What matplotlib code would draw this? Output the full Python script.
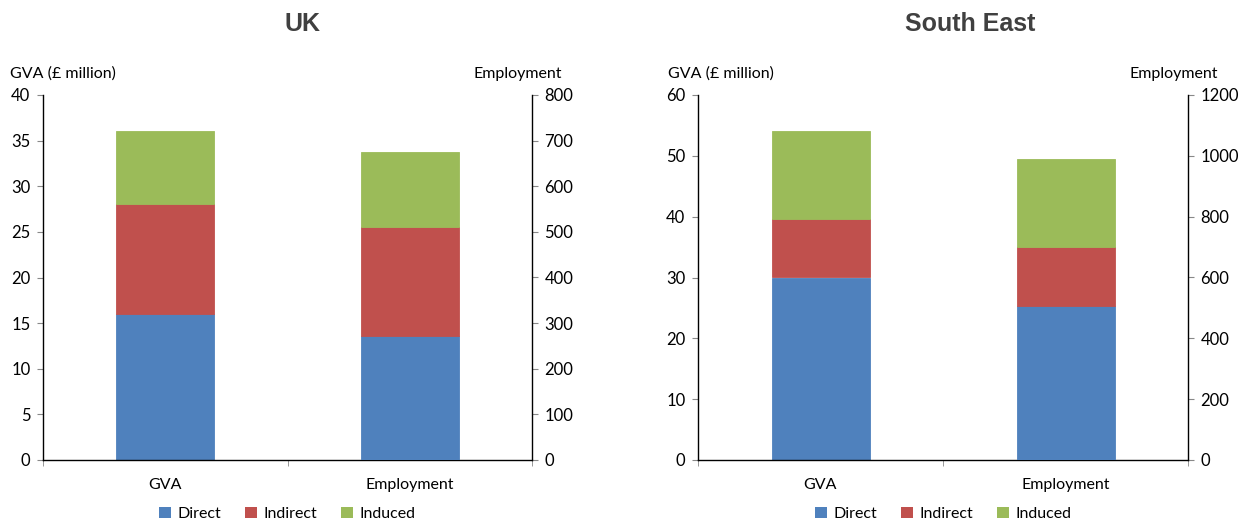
import matplotlib
matplotlib.use("Agg")
import matplotlib.pyplot as plt
from matplotlib.patches import Patch

# ---- data ----
categories = ["GVA", "Employment"]
series = ["Direct", "Indirect", "Induced"]
colors = ["#4F81BD", "#C0504D", "#9BBB59"]

uk_gva = [16.0, 12.0, 8.0]            # £ million
uk_emp = [272, 239, 164]               # jobs
se_gva = [30.0, 9.6, 14.4]            # £ million
se_emp = [506, 194, 290]               # jobs

uk_left_ticks = [0, 5, 10, 15, 20, 25, 30, 35, 40]
uk_right_ticks = [0, 100, 200, 300, 400, 500, 600, 700, 800]
se_left_ticks = [0, 10, 20, 30, 40, 50, 60]
se_right_ticks = [0, 200, 400, 600, 800, 1000, 1200]

FONT = "Lato"
plt.rcParams["font.family"] = [FONT, "DejaVu Sans"]

W, H = 1245, 523
fig = plt.figure(figsize=(W / 100, H / 100), dpi=100)


def px_box(x0, y0, x1, y1):
    return [x0 / W, 1 - y1 / H, (x1 - x0) / W, (y1 - y0) / H]


def draw_panel(box, gva, emp, lticks, rticks, title, title_x, lab_left_x, lab_right_x):
    ax = fig.add_axes(px_box(*box))
    ax2 = ax.twinx()
    bw = 0.4
    bottom = 0
    for v, c in zip(gva, colors):
        ax.bar(0, v, bw, bottom=bottom, color=c, edgecolor=c, linewidth=0.6)
        bottom += v
    bottom = 0
    for v, c in zip(emp, colors):
        ax2.bar(1, v, bw, bottom=bottom, color=c, edgecolor=c, linewidth=0.6)
        bottom += v
    ax.set_xlim(-0.5, 1.5)
    ax.set_ylim(lticks[0], lticks[-1])
    ax2.set_ylim(rticks[0], rticks[-1])
    ax.set_yticks(lticks)
    ax2.set_yticks(rticks)
    ax.set_xticks([0, 1])
    ax.set_xticklabels(categories)
    ax.set_xticks([-0.5, 0.5, 1.5], minor=True)
    ax.tick_params(axis="x", which="major", length=0, pad=13, labelsize=11.5)
    ax.tick_params(axis="x", which="minor", length=4, color="#888888", direction="out")
    ax.tick_params(axis="y", length=4, color="#888888", labelsize=12, pad=5)
    ax2.tick_params(axis="y", length=4, color="#888888", labelsize=12, pad=5)
    for a in (ax, ax2):
        a.spines["top"].set_visible(False)
        for s in ("left", "right", "bottom"):
            a.spines[s].set_color("black")
            a.spines[s].set_linewidth(1.0)
    ax.spines["right"].set_visible(False)
    ax2.spines["left"].set_visible(False)
    ax2.spines["bottom"].set_visible(False)

    fig.text(title_x / W, 1 - 24 / H, title, ha="center", va="center",
             fontsize=18, fontweight="bold", color="#404040",
             family=["Liberation Sans", "DejaVu Sans"])
    fig.text(lab_left_x / W, 1 - 74 / H, "GVA (£ million)", ha="left", va="center", fontsize=11.5)
    fig.text(lab_right_x / W, 1 - 74 / H, "Employment", ha="right", va="center", fontsize=11.5)

    handles = [Patch(facecolor=c, edgecolor="none") for c in colors]
    ax.legend(handles, series, loc="center", bbox_to_anchor=(0.5, -54 / 365), ncol=3,
              frameon=False, fontsize=11.5, handlelength=0.75, handleheight=0.75,
              handletextpad=0.4, columnspacing=1.5)


draw_panel((43, 95, 532, 460), uk_gva, uk_emp, uk_left_ticks, uk_right_ticks,
           "UK", 302, 10, 562)
draw_panel((698, 95, 1188, 460), se_gva, se_emp, se_left_ticks, se_right_ticks,
           "South East", 970, 668, 1218)

fig.savefig("out.png", dpi=100)
